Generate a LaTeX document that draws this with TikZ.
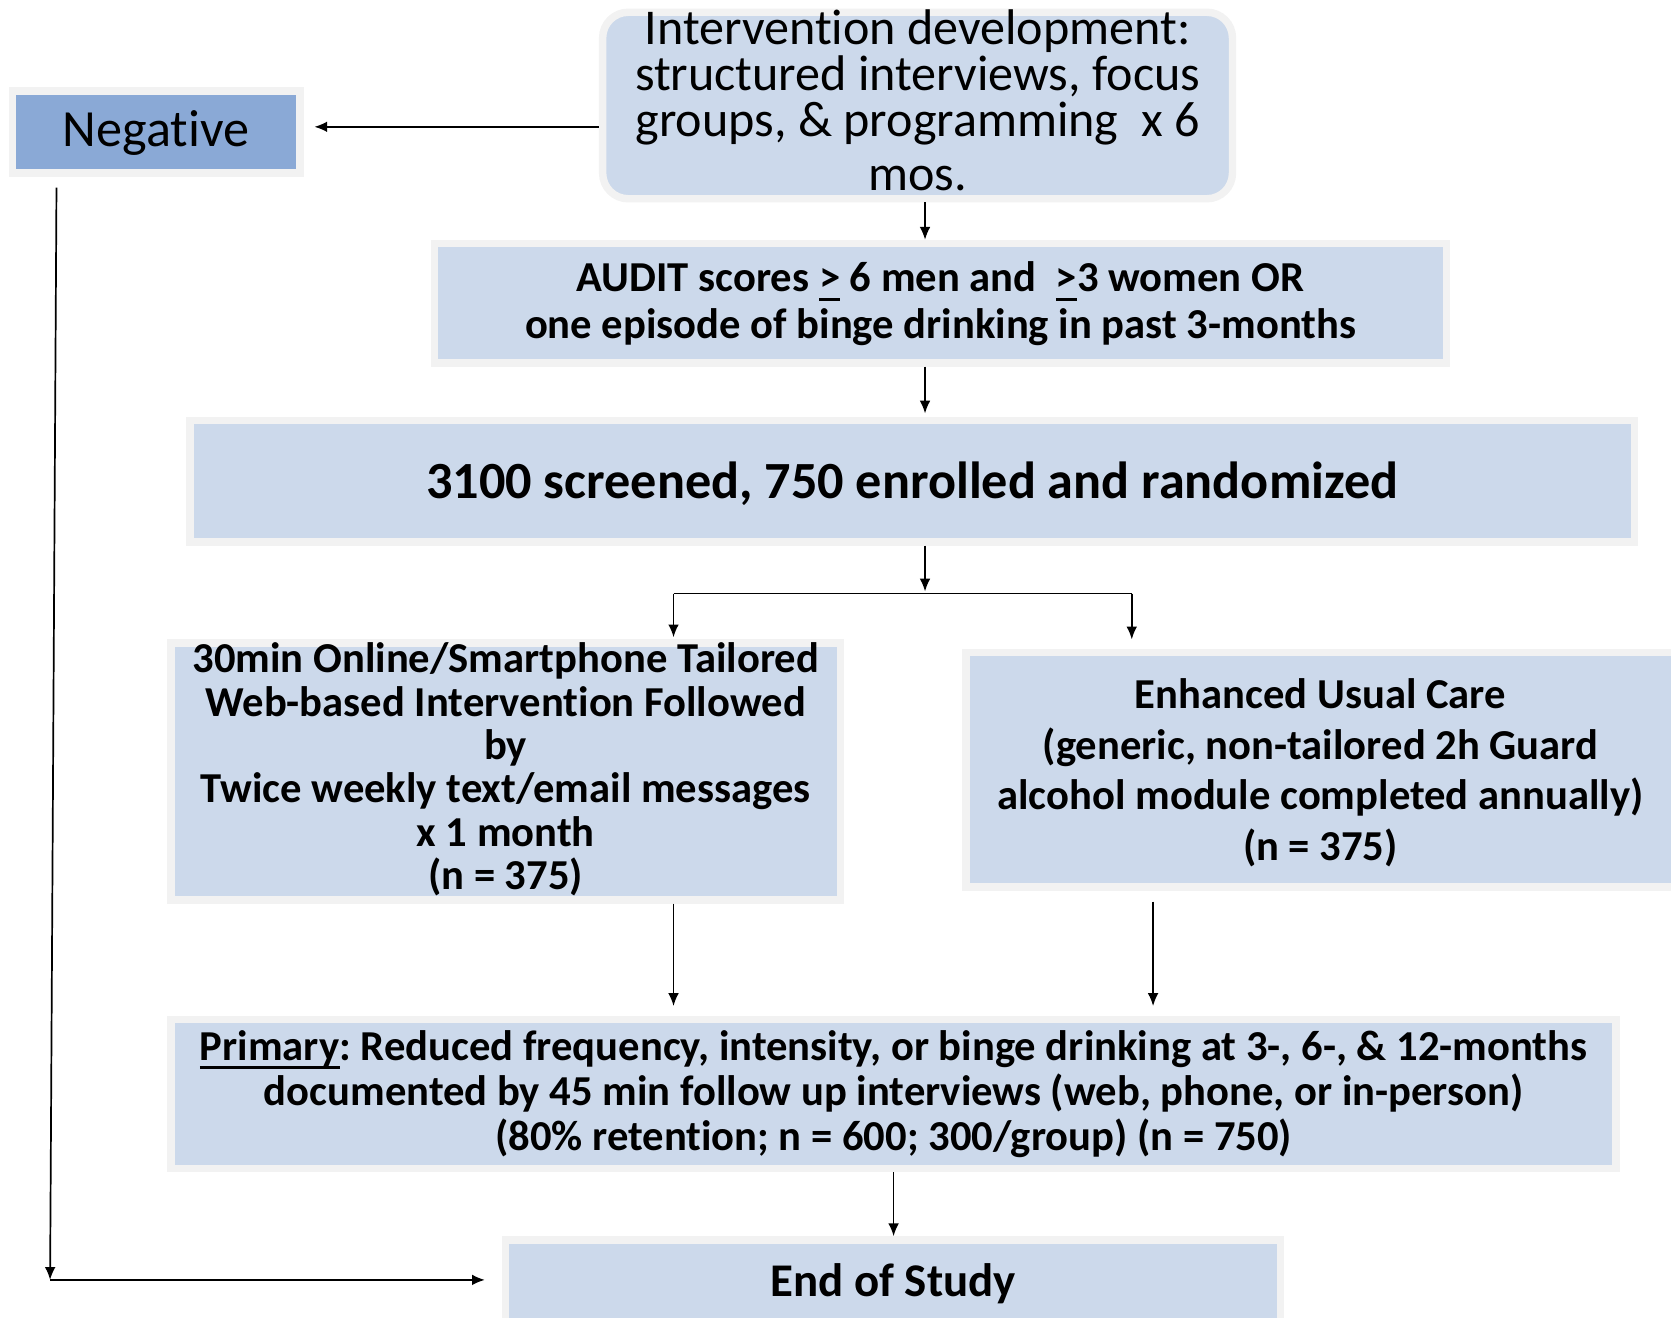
\documentclass[tikz,border=0pt]{standalone}
\usepackage{fontspec}
\setmainfont{Carlito}[Ligatures=CommonOff]
\usetikzlibrary{arrows.meta}
\definecolor{boxblue}{HTML}{CCD9EB}
\definecolor{negblue}{HTML}{8AA9D6}
\definecolor{boxrim}{HTML}{F2F2F2}
\newsavebox{\ulbox}
\newcommand{\thickul}[1]{\sbox{\ulbox}{#1}\rlap{\rule[-8.5pt]{\wd\ulbox}{3pt}}\usebox{\ulbox}}
\frenchspacing
\lineskiplimit=-100pt
\begin{document}
\begin{tikzpicture}[x=1pt,y=-1pt,
  box/.style={draw=boxrim,line width=7pt,fill=boxblue,inner sep=0pt,align=center,text depth=0pt,
    font=\bfseries\fontsize{40}{41}\selectfont},
  arr/.style={line width=1.6pt,-{Latex[length=12pt,width=10pt]}}]
			\useasboundingbox (0,0) rectangle (1568,1236.7);

			% Boxes
			\node[box,fill=negblue,minimum width=270,minimum height=77,text height=27pt,
				font=\fontsize{49}{50}\selectfont] (neg) at (146.5,124) {Negative};
			\node[box,rounded corners=24,minimum width=591,minimum height=175,text height=158.6pt,
				font=\fontsize{47}{43.3}\selectfont] (top) at (861,99)
				{Intervention development:\\structured interviews, focus\\groups, \& programming~ x 6\\[6.8pt]mos.};
			\node[box,minimum width=950,minimum height=112,text height=66pt,font=\bfseries\fontsize{40}{43.8}\selectfont] (audit) at (882.5,284.5)
				{AUDIT scores \thickul{>} 6 men and~ \thickul{>}3 women OR\\one episode of binge drinking in past 3-months};
			\node[box,minimum width=1355,minimum height=114,text height=33pt,
				font=\bfseries\fontsize{49}{50}\selectfont] (scr) at (856,451.5)
				{3100 screened, 750 enrolled and randomized};
			\node[box,minimum width=628,minimum height=241,text height=221pt,font=\bfseries\fontsize{40}{40.6}\selectfont] (web) at (474.5,724)
				{30min Online/Smartphone Tailored\\Web-based Intervention Followed\\by\\Twice weekly text/email messages\\x 1 month\\(n = 375)};
			\node[box,minimum width=665,minimum height=220,text height=170.2pt,font=\bfseries\fontsize{40}{47.6}\selectfont] (euc) at (1239,722.5)
				{Enhanced Usual Care\\(generic, non-tailored 2h Guard\\alcohol module completed annually)\\(n = 375)};
			\node[box,minimum width=1356,minimum height=140,text height=105.2pt,font=\bfseries\fontsize{40}{42.2}\selectfont] (prim) at (838.5,1026.5)
				{\thickul{Primary}: Reduced frequency, intensity, or binge drinking at 3-, 6-, \& 12-months\\documented by 45 min follow up interviews (web, phone, or in-person)\\(80\% retention; n = 600; 300/group) (n = 750)};
			\node[box,minimum width=727,minimum height=81,text height=26pt,
				font=\bfseries\fontsize{44}{45}\selectfont] (end) at (838,1204) {End of Study};

			% Helper points
			\coordinate (spine) at (868,0);
			\coordinate (fork) at (868,557);
			\coordinate (forkL) at (632,557);
			\coordinate (forkR) at (1062,557);
			\coordinate (colR) at (1082,0);
			\coordinate (corner) at (47,1201);

			% Main path
			\draw[arr] (top.south -| spine) -- (audit.north -| spine);
			\draw[arr,shorten >=3pt] (audit.south -| spine) -- (scr.north -| spine);
			\draw[arr,shorten >=2pt] (scr.south -| fork) -- (fork);
			\draw[line width=1.6pt] (forkL) -- (forkR);
			\draw[arr,shorten >=2pt] (forkL) -- (forkL |- web.north);
			\draw[arr,shorten >=9pt] (forkR) -- (forkR |- euc.north);
			\draw[arr,shorten >=9pt] (web.south -| forkL) -- (prim.north -| forkL);
			\draw[arr,shorten <=10pt,shorten >=9pt] (euc.south -| colR) -- (prim.north -| colR);
			\draw[arr] (prim.south) -- (prim.south |- end.north);

			% Negative branch
			\draw[arr,shorten >=10pt] ([yshift=-20pt]top.west) -- ([yshift=-20pt]top.west -| neg.east);
			\draw[arr] ([xshift=-93.5pt,yshift=-10pt]neg.south) -- (corner);
			\draw[arr,shorten >=16pt] (corner) -- (corner -| end.west);
		\end{tikzpicture}
\end{document}
